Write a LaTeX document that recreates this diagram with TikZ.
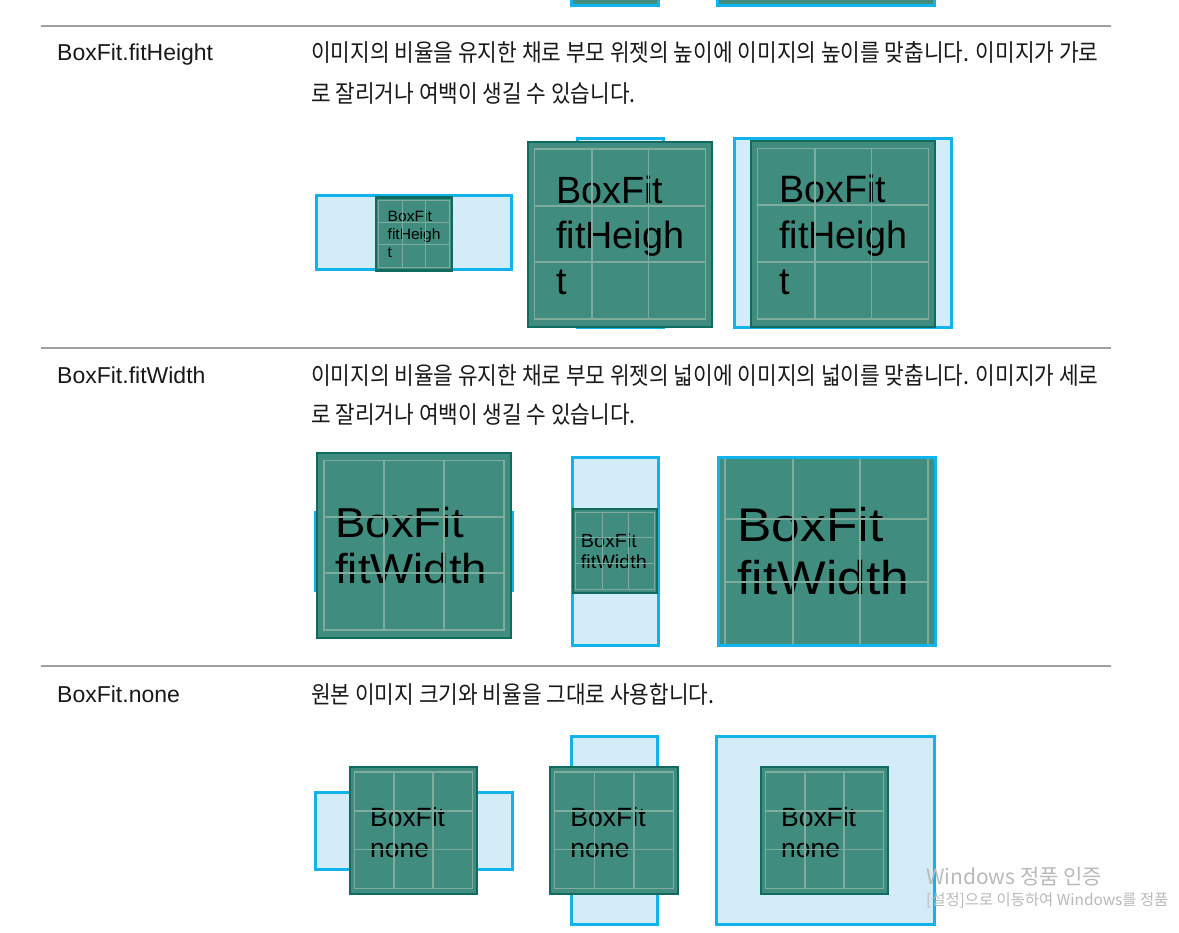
\documentclass[tikz,border=0pt]{standalone}
\usepackage{fontspec}
\setmainfont{Liberation Sans}
\newfontfamily\krfont[FakeStretch=0.89]{Noto Sans CJK KR}
\newfontfamily\wmfont{Noto Sans CJK KR}
\newfontfamily\imgfont{Liberation Sans}
\definecolor{bbord}{RGB}{18,178,235}
\definecolor{bfill}{RGB}{212,235,248}
\definecolor{gfill}{RGB}{64,140,126}
\definecolor{gdark}{RGB}{14,107,94}
\definecolor{gline}{RGB}{128,172,158}
\definecolor{sepc}{RGB}{160,160,160}
\definecolor{txt}{RGB}{25,25,25}
\definecolor{wmc}{RGB}{185,185,185}
\tikzset{
  parentbox/.style={draw=bbord, fill=bfill, line width=3pt},
  topbox/.style={draw=bbord, fill=gfill, line width=3pt},
  sepline/.style={draw=sepc, line width=1.2pt},
  lab/.style={anchor=base west, inner sep=0pt, text=txt, font=\imgfont\fontsize{23}{23}\selectfont},
  desc/.style={anchor=base west, inner sep=0pt, text=txt, font=\krfont\fontsize{24}{24}\selectfont},
  imtext/.style={anchor=base west, inner sep=0pt, text=black, transform shape},
  wm/.style={anchor=base west, inner sep=0pt, text=wmc},
}
% image: #1 x1, #2 y1, #3 x2, #4 y2, #5 grid line width, #6 text content
\newcommand\bfimg[6]{%
\begin{scope}[shift={(#1,#2)}, xscale={(#3-#1)/100}, yscale={(#4-#2)/100}]
  \fill[gfill] (0,0) rectangle (100,100);
  #6
  \draw[gline, line width=#5] (3.5,4) rectangle (96.5,95.5);
  \draw[gline, line width=#5] (34.6,4) -- (34.6,95.5) (65.5,4) -- (65.5,95.5)
       (3.5,34.5) -- (96.5,34.5) (3.5,64.9) -- (96.5,64.9);
  \draw[gdark, line width=2.2pt] (0,0) rectangle (100,100);
\end{scope}}
\newcommand\txtheight{%
  \node[imtext, font=\imgfont\fontsize{20.5}{20.5}\selectfont] (h1) at (15.2,33) {BoxFit};
  \node[imtext, font=\imgfont\fontsize{20.5}{20.5}\selectfont] (h2) at (15.2,57.8) {fitHeigh};
  \node[imtext, font=\imgfont\fontsize{20.5}{20.5}\selectfont] (h3) at (15.2,82.7) {t};}
\newcommand\txtwidth{%
  \node[imtext, xscale=1.04, font=\imgfont\fontsize{22.6}{22.6}\selectfont] (w1) at (9.2,45.5) {BoxFit};
  \node[imtext, xscale=1.04, font=\imgfont\fontsize{22.6}{22.6}\selectfont] (w2) at (9.2,70.8) {fitWidth};}
\newcommand\txtnone{%
  \node[imtext, font=\imgfont\fontsize{20.8}{20.8}\selectfont] (n1) at (15.7,46.5) {BoxFit};
  \node[imtext, font=\imgfont\fontsize{20.8}{20.8}\selectfont] (n2) at (15.7,70.9) {none};}
\begin{document}
\begin{tikzpicture}[x=1pt, y=-1pt]
\useasboundingbox[fill=white] (0,0) rectangle (1179,933);

% partial boxes from the row above
\path[topbox] (571,-20) rectangle (658,6);
\path[topbox] (717,-20) rectangle (934,6);

% separators
\draw[sepline] (41,26) -- (1111,26);
\draw[sepline] (41,348) -- (1111,348);
\draw[sepline] (41,666) -- (1111,666);

% ---------- fitHeight row ----------
\node[lab] (l1) at (57,61) {BoxFit.fitHeight};
\node[desc] (d1a) at (311,62) {이미지의 비율을 유지한 채로 부모 위젯의 높이에 이미지의 높이를 맞춥니다. 이미지가 가로};
\node[desc] (d1b) at (311,103) {로 잘리거나 여백이 생길 수 있습니다.};

\path[parentbox] (316,196) rectangle (511,270);
\bfimg{376}{197.5}{452}{270.5}{0.9pt}{\txtheight}

\path[parentbox] (577,139) rectangle (663,328);
\bfimg{528}{142}{712}{327}{1.8pt}{\txtheight}

\path[parentbox] (734,139) rectangle (951,328);
\bfimg{751}{141}{935}{327}{1.8pt}{\txtheight}

% ---------- fitWidth row ----------
\node[lab] (l2) at (57,384) {BoxFit.fitWidth};
\node[desc] (d2a) at (311,385) {이미지의 비율을 유지한 채로 부모 위젯의 넓이에 이미지의 넓이를 맞춥니다. 이미지가 세로};
\node[desc] (d2b) at (311,424) {로 잘리거나 여백이 생길 수 있습니다.};

\path[parentbox] (315,512) rectangle (512,590);
\bfimg{317}{453}{511}{638}{1.8pt}{\txtwidth}

\path[parentbox] (572,457) rectangle (658,645);
\bfimg{573}{509}{657}{593}{1pt}{\txtwidth}

\path[parentbox] (718,457) rectangle (935,645);
\begin{scope}
  \clip (719,458) rectangle (934,644);
  \bfimg{717}{446.5}{936}{655.5}{2pt}{\txtwidth}
\end{scope}
\draw[bbord, line width=3pt] (718,457) rectangle (935,645);

% ---------- none row ----------
\node[lab] (l3) at (57,702) {BoxFit.none};
\node[desc] (d3a) at (311,703) {원본 이미지 크기와 비율을 그대로 사용합니다.};

\path[parentbox] (315,792) rectangle (512,869);
\bfimg{350}{767}{477}{894}{1.4pt}{\txtnone}

\path[parentbox] (571,736) rectangle (657,924);
\bfimg{550}{767}{678}{894}{1.4pt}{\txtnone}

\path[parentbox] (716,736) rectangle (934,924);
\bfimg{761}{767}{888}{894}{1.4pt}{\txtnone}

% watermark
\node[wm, font=\wmfont\fontsize{21}{21}\selectfont] (wm1) at (926,884) {Windows 정품 인증};
\node[wm, font=\wmfont\fontsize{15.4}{15.4}\selectfont] (wm2) at (926,905) {[설정]으로 이동하여 Windows를 정품};
\end{tikzpicture}
\end{document}
